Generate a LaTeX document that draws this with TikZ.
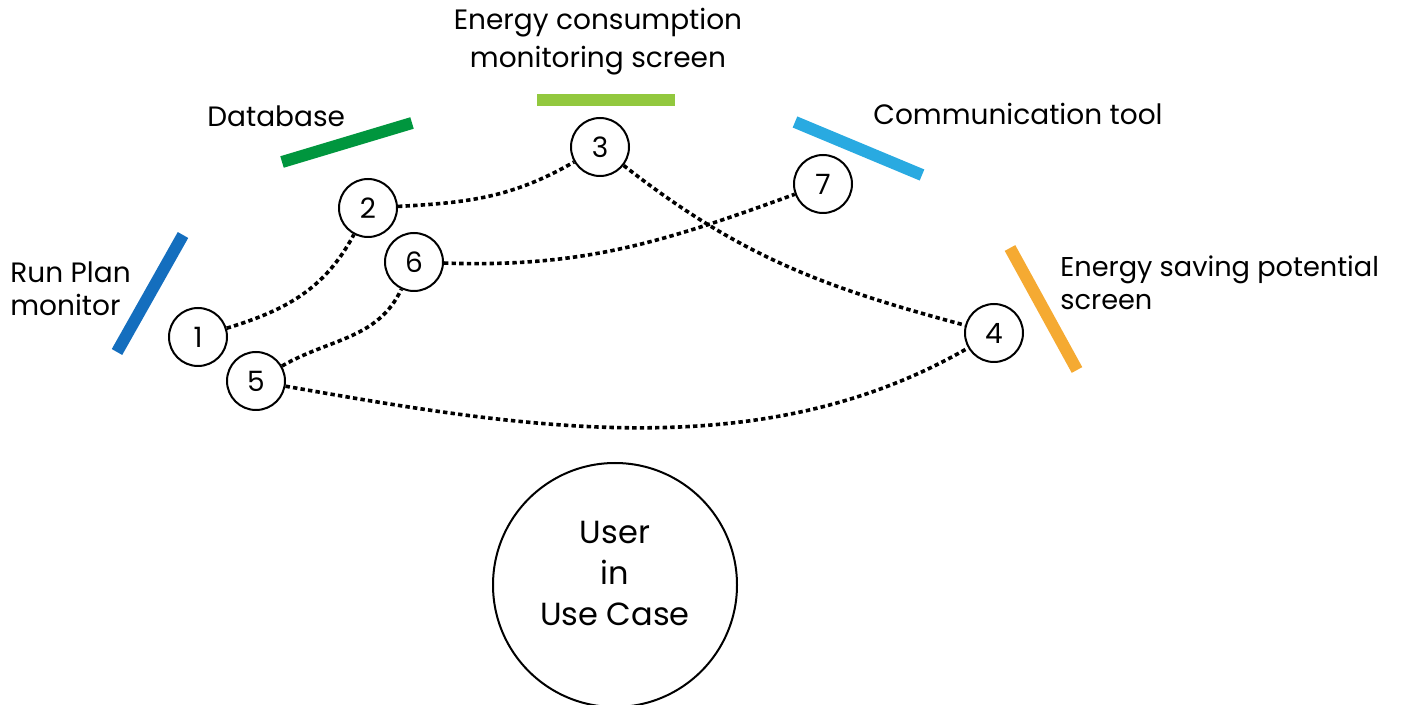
\documentclass[tikz,border=0pt]{standalone}
\usepackage{fontspec}
\setmainfont{Poppins}
\definecolor{cRun}{RGB}{20,110,190}
\definecolor{cDb}{RGB}{0,150,62}
\definecolor{cEc}{RGB}{146,200,62}
\definecolor{cCom}{RGB}{41,170,225}
\definecolor{cEs}{RGB}{245,170,50}
\begin{document}
\begin{tikzpicture}[x=0.5pt,y=-0.5pt,
  num/.style={circle, draw, line width=1pt, minimum size=29pt, inner sep=0pt, font=\fontsize{14}{16}\selectfont},
  link/.style={line width=1.8pt, dash pattern=on 2.2pt off 1.6pt},
  bar/.style={line width=6pt},
  lbl/.style={font=\fontsize{14}{16.5}\selectfont, inner sep=0pt},
  usr/.style={circle, draw, line width=1pt, minimum size=122pt, inner sep=0pt}]
\useasboundingbox (0,0) rectangle (1421,705);
% bars
\draw[bar, cRun] (183,235) -- (117,352);
\draw[bar, cDb] (282,162) -- (412,123);
\draw[bar, cEc] (537,100) -- (675,100);
\draw[bar, cCom] (795,122) -- (922,175);
\draw[bar, cEs] (1010,248) -- (1077,370);
% labels
\node[lbl, anchor=west, align=left] (lRun) at (10,289) {Run Plan\\monitor};
\node[lbl, anchor=west] (lDb) at (207,116) {Database};
\node[lbl, align=center, font=\fontsize{14}{19}\selectfont] (lEc) at (598,42) {Energy consumption\\monitoring screen};
\node[lbl, anchor=west] (lCom) at (873,114) {Communication tool};
\node[lbl, anchor=west, align=left, font=\fontsize{13.6}{16.5}\selectfont] (lEs) at (1060,283) {Energy saving potential\\screen};
% numbered circles
\node[num] (n1) at (198,337) {1};
\node[num] (n2) at (368,208) {2};
\node[num] (n3) at (600,147) {3};
\node[num] (n4) at (994,333) {4};
\node[num] (n5) at (256,381) {5};
\node[num] (n6) at (414,262) {6};
\node[num] (n7) at (823,184) {7};
% user
\node[usr] (user) at (615,585) {};
\node[font=\fontsize{16}{20.5}\selectfont, align=center, inner sep=0pt] (utext) at (615,573) {User\\in\\Use Case};
% links
\draw[link] (n1) to[out=17, in=-118] (n2);
\draw[link] (n2) to[out=3, in=-150] (n3);
\draw[link] (n3) to[out=-38, in=165] (n4);
\draw[link] (n5) to[out=30, in=-115] (n6);
\draw[link] (n6) to[out=-2, in=-160] (n7);
\draw[link] (n5) to[out=-10, in=-150, looseness=0.9] (n4);
\end{tikzpicture}
\end{document}
